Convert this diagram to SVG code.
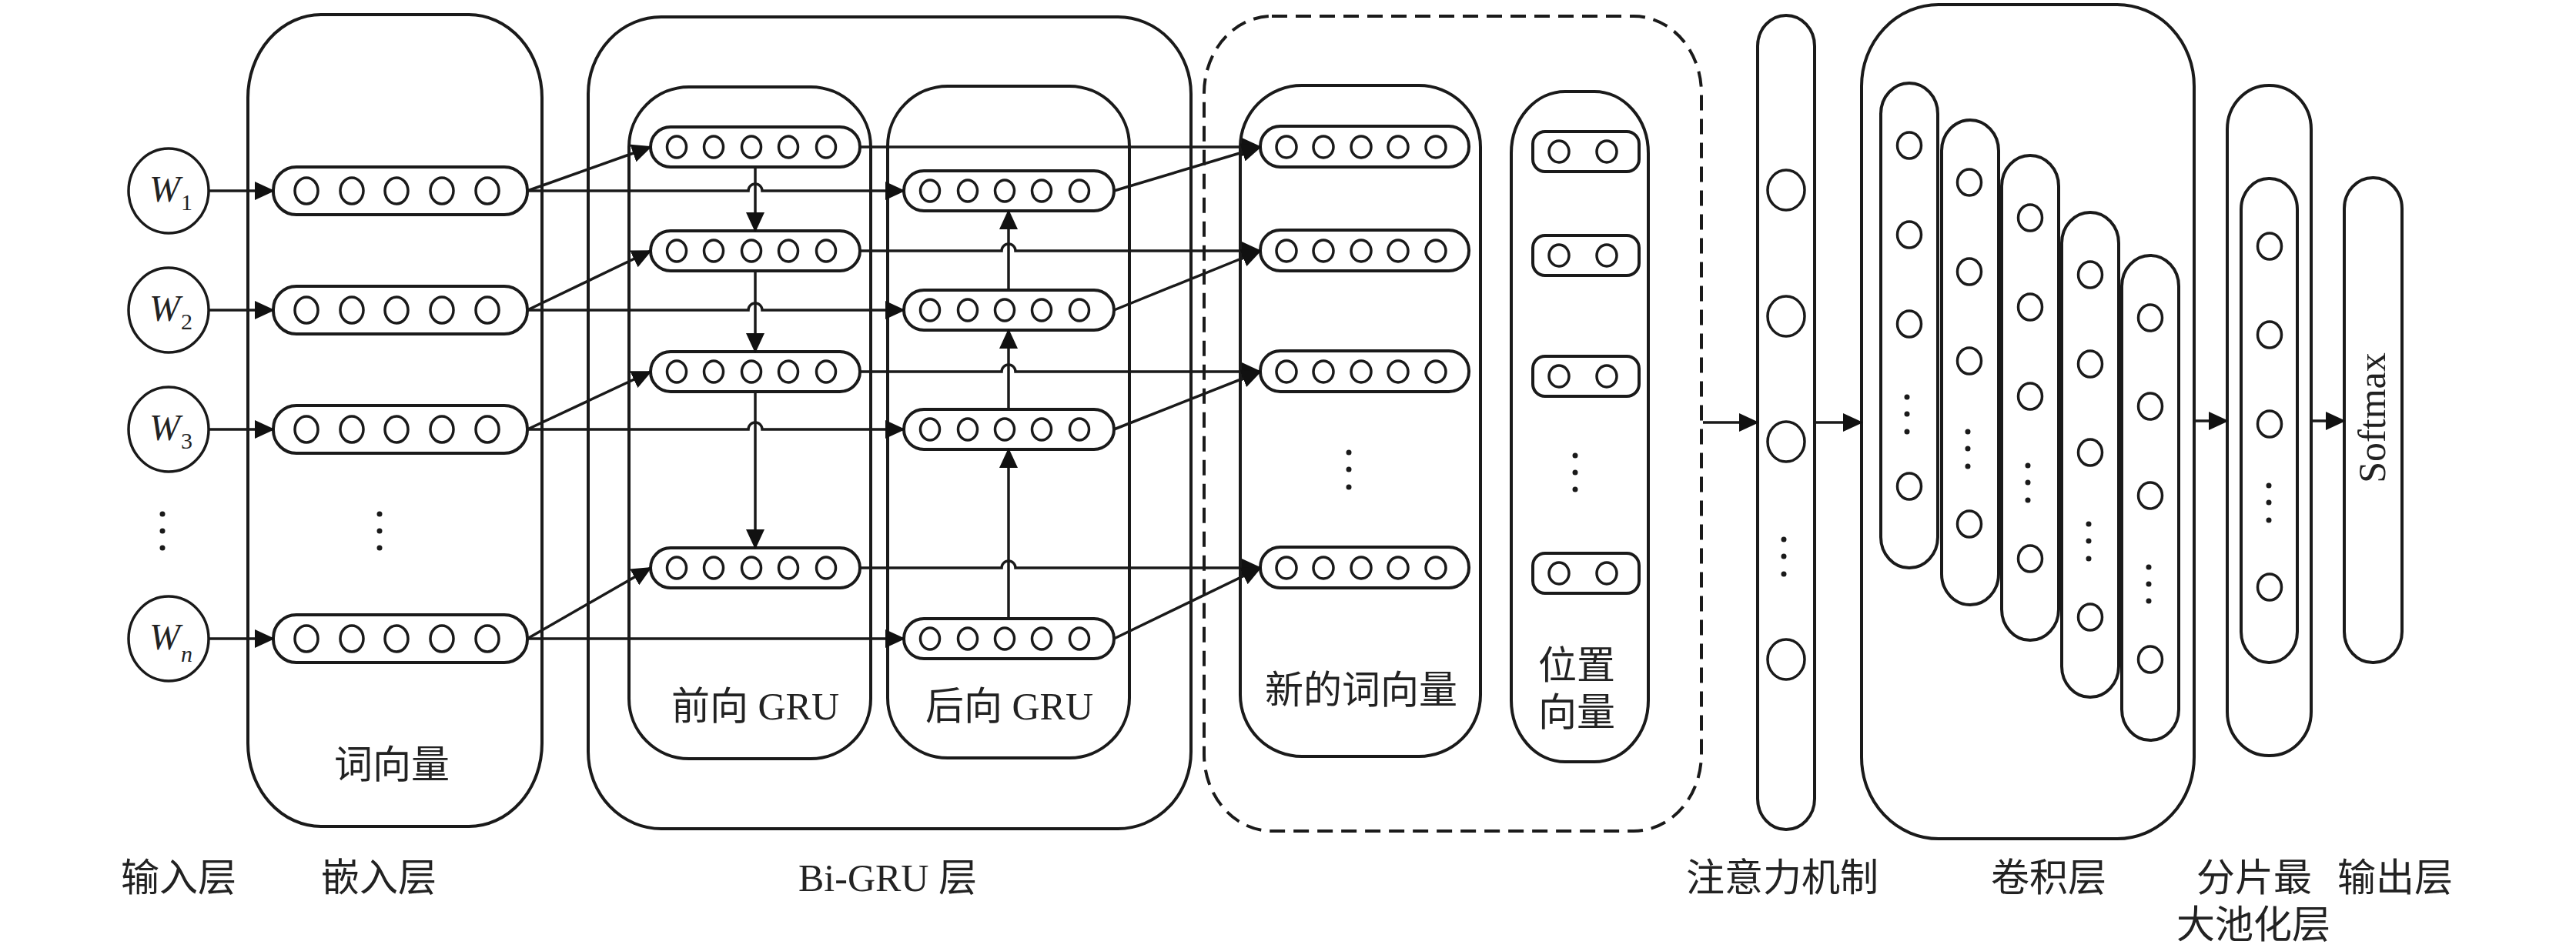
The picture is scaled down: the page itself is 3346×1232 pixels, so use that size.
<svg xmlns="http://www.w3.org/2000/svg" width="3346" height="1232" viewBox="0 0 3346 1232">
<style>
.box{fill:none;stroke:#1a1a1a;stroke-width:4}
.dash{fill:none;stroke:#1a1a1a;stroke-width:4;stroke-dasharray:20 11}
.pill{fill:#fff;stroke:#1a1a1a;stroke-width:4}
.c{fill:#fff;stroke:#1a1a1a;stroke-width:3.5}
.dot{fill:#1a1a1a}
.ln{fill:none;stroke:#1a1a1a;stroke-width:3.5;marker-end:url(#ah)}
.cn{font-family:"Liberation Serif","Noto Sans CJK SC",serif;font-size:50px;fill:#222;text-anchor:middle}
.wi{font-family:"Liberation Serif",serif;font-style:italic;font-size:48px;fill:#222}
.sub{font-family:"Liberation Serif",serif;font-size:30px;fill:#222}
</style>
<defs>
<marker id="ah" markerWidth="26" markerHeight="24" refX="24" refY="12" orient="auto" markerUnits="userSpaceOnUse"><path d="M0,0 L26,12 L0,24 z" fill="#111"/></marker>
<g id="c5e"><circle/></g>
</defs>
<rect width="3346" height="1232" fill="#fff"/>

<!-- Input layer -->
<g id="input">
<ellipse class="c" cx="219" cy="248" rx="52" ry="55"/>
<text class="wi" x="194" y="262">W</text><text class="sub" x="235" y="273">1</text>
<ellipse class="c" cx="219" cy="403" rx="52" ry="55"/>
<text class="wi" x="194" y="417">W</text><text class="sub" x="235" y="428">2</text>
<ellipse class="c" cx="219" cy="558" rx="52" ry="55"/>
<text class="wi" x="194" y="572">W</text><text class="sub" x="235" y="583">3</text>
<ellipse class="c" cx="219" cy="830" rx="52" ry="55"/>
<text class="wi" x="194" y="844">W</text><text class="sub" x="235" y="860" font-style="italic">n</text>
<circle class="dot" cx="211" cy="668" r="3.5"/><circle class="dot" cx="211" cy="690" r="3.5"/><circle class="dot" cx="211" cy="712" r="3.5"/>
</g>

<!-- Embedding layer -->
<g id="embedding">
<rect class="box" x="322" y="19" width="382" height="1055" rx="95" ry="108"/>
<g>
<rect class="pill" x="355" y="217" width="330" height="62" rx="30"/>
<ellipse class="c" cx="398" cy="248" rx="15" ry="17"/><ellipse class="c" cx="457" cy="248" rx="15" ry="17"/><ellipse class="c" cx="515" cy="248" rx="15" ry="17"/><ellipse class="c" cx="574" cy="248" rx="15" ry="17"/><ellipse class="c" cx="633" cy="248" rx="15" ry="17"/>
</g>
<g>
<rect class="pill" x="355" y="372" width="330" height="62" rx="30"/>
<ellipse class="c" cx="398" cy="403" rx="15" ry="17"/><ellipse class="c" cx="457" cy="403" rx="15" ry="17"/><ellipse class="c" cx="515" cy="403" rx="15" ry="17"/><ellipse class="c" cx="574" cy="403" rx="15" ry="17"/><ellipse class="c" cx="633" cy="403" rx="15" ry="17"/>
</g>
<g>
<rect class="pill" x="355" y="527" width="330" height="62" rx="30"/>
<ellipse class="c" cx="398" cy="558" rx="15" ry="17"/><ellipse class="c" cx="457" cy="558" rx="15" ry="17"/><ellipse class="c" cx="515" cy="558" rx="15" ry="17"/><ellipse class="c" cx="574" cy="558" rx="15" ry="17"/><ellipse class="c" cx="633" cy="558" rx="15" ry="17"/>
</g>
<g>
<rect class="pill" x="355" y="799" width="330" height="62" rx="30"/>
<ellipse class="c" cx="398" cy="830" rx="15" ry="17"/><ellipse class="c" cx="457" cy="830" rx="15" ry="17"/><ellipse class="c" cx="515" cy="830" rx="15" ry="17"/><ellipse class="c" cx="574" cy="830" rx="15" ry="17"/><ellipse class="c" cx="633" cy="830" rx="15" ry="17"/>
</g>
<circle class="dot" cx="493" cy="668" r="3.5"/><circle class="dot" cx="493" cy="690" r="3.5"/><circle class="dot" cx="493" cy="712" r="3.5"/>
<text class="cn" x="509" y="1011">词向量</text>
</g>

<!-- Bi-GRU layer -->
<g id="bigru">
<rect class="box" x="764" y="22" width="783" height="1055" rx="95" ry="100"/>
<g id="forward">
<rect class="box" x="817" y="113" width="314" height="873" rx="78" ry="78"/>
<g><rect class="pill" x="845" y="165" width="272" height="52" rx="26"/>
<ellipse class="c" cx="879" cy="191" rx="12.5" ry="14"/><ellipse class="c" cx="927" cy="191" rx="12.5" ry="14"/><ellipse class="c" cx="976" cy="191" rx="12.5" ry="14"/><ellipse class="c" cx="1024" cy="191" rx="12.5" ry="14"/><ellipse class="c" cx="1073" cy="191" rx="12.5" ry="14"/></g>
<g><rect class="pill" x="845" y="300" width="272" height="52" rx="26"/>
<ellipse class="c" cx="879" cy="326" rx="12.5" ry="14"/><ellipse class="c" cx="927" cy="326" rx="12.5" ry="14"/><ellipse class="c" cx="976" cy="326" rx="12.5" ry="14"/><ellipse class="c" cx="1024" cy="326" rx="12.5" ry="14"/><ellipse class="c" cx="1073" cy="326" rx="12.5" ry="14"/></g>
<g><rect class="pill" x="845" y="457" width="272" height="52" rx="26"/>
<ellipse class="c" cx="879" cy="483" rx="12.5" ry="14"/><ellipse class="c" cx="927" cy="483" rx="12.5" ry="14"/><ellipse class="c" cx="976" cy="483" rx="12.5" ry="14"/><ellipse class="c" cx="1024" cy="483" rx="12.5" ry="14"/><ellipse class="c" cx="1073" cy="483" rx="12.5" ry="14"/></g>
<g><rect class="pill" x="845" y="712" width="272" height="52" rx="26"/>
<ellipse class="c" cx="879" cy="738" rx="12.5" ry="14"/><ellipse class="c" cx="927" cy="738" rx="12.5" ry="14"/><ellipse class="c" cx="976" cy="738" rx="12.5" ry="14"/><ellipse class="c" cx="1024" cy="738" rx="12.5" ry="14"/><ellipse class="c" cx="1073" cy="738" rx="12.5" ry="14"/></g>
<text class="cn" x="981" y="935">前向 GRU</text>
</g>
<g id="backward">
<rect class="box" x="1153" y="112" width="314" height="873" rx="78" ry="78"/>
<g><rect class="pill" x="1174" y="222" width="273" height="52" rx="26"/>
<ellipse class="c" cx="1208" cy="248" rx="12.5" ry="14"/><ellipse class="c" cx="1257" cy="248" rx="12.5" ry="14"/><ellipse class="c" cx="1305" cy="248" rx="12.5" ry="14"/><ellipse class="c" cx="1353" cy="248" rx="12.5" ry="14"/><ellipse class="c" cx="1402" cy="248" rx="12.5" ry="14"/></g>
<g><rect class="pill" x="1174" y="377" width="273" height="52" rx="26"/>
<ellipse class="c" cx="1208" cy="403" rx="12.5" ry="14"/><ellipse class="c" cx="1257" cy="403" rx="12.5" ry="14"/><ellipse class="c" cx="1305" cy="403" rx="12.5" ry="14"/><ellipse class="c" cx="1353" cy="403" rx="12.5" ry="14"/><ellipse class="c" cx="1402" cy="403" rx="12.5" ry="14"/></g>
<g><rect class="pill" x="1174" y="532" width="273" height="52" rx="26"/>
<ellipse class="c" cx="1208" cy="558" rx="12.5" ry="14"/><ellipse class="c" cx="1257" cy="558" rx="12.5" ry="14"/><ellipse class="c" cx="1305" cy="558" rx="12.5" ry="14"/><ellipse class="c" cx="1353" cy="558" rx="12.5" ry="14"/><ellipse class="c" cx="1402" cy="558" rx="12.5" ry="14"/></g>
<g><rect class="pill" x="1174" y="804" width="273" height="52" rx="26"/>
<ellipse class="c" cx="1208" cy="830" rx="12.5" ry="14"/><ellipse class="c" cx="1257" cy="830" rx="12.5" ry="14"/><ellipse class="c" cx="1305" cy="830" rx="12.5" ry="14"/><ellipse class="c" cx="1353" cy="830" rx="12.5" ry="14"/><ellipse class="c" cx="1402" cy="830" rx="12.5" ry="14"/></g>
<text class="cn" x="1311" y="935">后向 GRU</text>
</g>
</g>

<!-- Concatenation (dashed) -->
<g id="concat">
<rect class="dash" x="1564" y="21" width="646" height="1059" rx="88" ry="100"/>
<g id="newvec">
<rect class="box" x="1611" y="111" width="312" height="872" rx="80" ry="80"/>
<g><rect class="pill" x="1637" y="164" width="271" height="53" rx="26"/>
<ellipse class="c" cx="1671" cy="191" rx="13" ry="14"/><ellipse class="c" cx="1719" cy="191" rx="13" ry="14"/><ellipse class="c" cx="1768" cy="191" rx="13" ry="14"/><ellipse class="c" cx="1816" cy="191" rx="13" ry="14"/><ellipse class="c" cx="1865" cy="191" rx="13" ry="14"/></g>
<g><rect class="pill" x="1637" y="299" width="271" height="53" rx="26"/>
<ellipse class="c" cx="1671" cy="326" rx="13" ry="14"/><ellipse class="c" cx="1719" cy="326" rx="13" ry="14"/><ellipse class="c" cx="1768" cy="326" rx="13" ry="14"/><ellipse class="c" cx="1816" cy="326" rx="13" ry="14"/><ellipse class="c" cx="1865" cy="326" rx="13" ry="14"/></g>
<g><rect class="pill" x="1637" y="456" width="271" height="53" rx="26"/>
<ellipse class="c" cx="1671" cy="483" rx="13" ry="14"/><ellipse class="c" cx="1719" cy="483" rx="13" ry="14"/><ellipse class="c" cx="1768" cy="483" rx="13" ry="14"/><ellipse class="c" cx="1816" cy="483" rx="13" ry="14"/><ellipse class="c" cx="1865" cy="483" rx="13" ry="14"/></g>
<g><rect class="pill" x="1637" y="711" width="271" height="53" rx="26"/>
<ellipse class="c" cx="1671" cy="738" rx="13" ry="14"/><ellipse class="c" cx="1719" cy="738" rx="13" ry="14"/><ellipse class="c" cx="1768" cy="738" rx="13" ry="14"/><ellipse class="c" cx="1816" cy="738" rx="13" ry="14"/><ellipse class="c" cx="1865" cy="738" rx="13" ry="14"/></g>
<circle class="dot" cx="1752" cy="588" r="3.5"/><circle class="dot" cx="1752" cy="610" r="3.5"/><circle class="dot" cx="1752" cy="633" r="3.5"/>
<text class="cn" x="1768" y="914">新的词向量</text>
</g>
<g id="position">
<rect class="box" x="1963" y="119" width="178" height="871" rx="70" ry="80"/>
<g><rect class="pill" x="1991" y="171" width="138" height="52" rx="16"/><ellipse class="c" cx="2025" cy="197" rx="13" ry="14"/><ellipse class="c" cx="2087" cy="197" rx="13" ry="14"/></g>
<g><rect class="pill" x="1991" y="306" width="138" height="52" rx="16"/><ellipse class="c" cx="2025" cy="332" rx="13" ry="14"/><ellipse class="c" cx="2087" cy="332" rx="13" ry="14"/></g>
<g><rect class="pill" x="1991" y="463" width="138" height="52" rx="16"/><ellipse class="c" cx="2025" cy="489" rx="13" ry="14"/><ellipse class="c" cx="2087" cy="489" rx="13" ry="14"/></g>
<g><rect class="pill" x="1991" y="719" width="138" height="52" rx="16"/><ellipse class="c" cx="2025" cy="745" rx="13" ry="14"/><ellipse class="c" cx="2087" cy="745" rx="13" ry="14"/></g>
<circle class="dot" cx="2046" cy="592" r="3.5"/><circle class="dot" cx="2046" cy="614" r="3.5"/><circle class="dot" cx="2046" cy="636" r="3.5"/>
<text class="cn" x="2048" y="882">位置</text>
<text class="cn" x="2048" y="943">向量</text>
</g>
</g>

<!-- Attention -->
<g id="attention">
<rect class="box" x="2283" y="20" width="74" height="1058" rx="37" ry="40"/>
<ellipse class="c" cx="2320" cy="247" rx="24" ry="26"/>
<ellipse class="c" cx="2320" cy="411" rx="24" ry="26"/>
<ellipse class="c" cx="2320" cy="574" rx="24" ry="26"/>
<ellipse class="c" cx="2320" cy="857" rx="24" ry="26"/>
<circle class="dot" cx="2317" cy="701" r="3.5"/><circle class="dot" cx="2317" cy="723" r="3.5"/><circle class="dot" cx="2317" cy="746" r="3.5"/>
</g>

<!-- Convolution -->
<g id="conv">
<rect class="box" x="2418" y="6" width="432" height="1084" rx="100" ry="106"/>
<g>
<rect class="box" x="2443" y="108" width="74" height="630" rx="37" ry="40"/>
<ellipse class="c" cx="2480" cy="189" rx="15.5" ry="17"/><ellipse class="c" cx="2480" cy="305" rx="15.5" ry="17"/><ellipse class="c" cx="2480" cy="421" rx="15.5" ry="17"/><ellipse class="c" cx="2480" cy="632" rx="15.5" ry="17"/>
<circle class="dot" cx="2477" cy="516" r="3.5"/><circle class="dot" cx="2477" cy="538" r="3.5"/><circle class="dot" cx="2477" cy="561" r="3.5"/>
</g>
<g>
<rect class="box" x="2522" y="156" width="74" height="630" rx="37" ry="40"/>
<ellipse class="c" cx="2558" cy="237" rx="15.5" ry="17"/><ellipse class="c" cx="2558" cy="353" rx="15.5" ry="17"/><ellipse class="c" cx="2558" cy="469" rx="15.5" ry="17"/><ellipse class="c" cx="2558" cy="681" rx="15.5" ry="17"/>
<circle class="dot" cx="2556" cy="561" r="3.5"/><circle class="dot" cx="2556" cy="583" r="3.5"/><circle class="dot" cx="2556" cy="606" r="3.5"/>
</g>
<g>
<rect class="box" x="2600" y="202" width="74" height="630" rx="37" ry="40"/>
<ellipse class="c" cx="2637" cy="283" rx="15.5" ry="17"/><ellipse class="c" cx="2637" cy="399" rx="15.5" ry="17"/><ellipse class="c" cx="2637" cy="515" rx="15.5" ry="17"/><ellipse class="c" cx="2637" cy="726" rx="15.5" ry="17"/>
<circle class="dot" cx="2634" cy="605" r="3.5"/><circle class="dot" cx="2634" cy="627" r="3.5"/><circle class="dot" cx="2634" cy="650" r="3.5"/>
</g>
<g>
<rect class="box" x="2678" y="276" width="74" height="630" rx="37" ry="40"/>
<ellipse class="c" cx="2715" cy="357" rx="15.5" ry="17"/><ellipse class="c" cx="2715" cy="473" rx="15.5" ry="17"/><ellipse class="c" cx="2715" cy="588" rx="15.5" ry="17"/><ellipse class="c" cx="2715" cy="802" rx="15.5" ry="17"/>
<circle class="dot" cx="2713" cy="681" r="3.5"/><circle class="dot" cx="2713" cy="703" r="3.5"/><circle class="dot" cx="2713" cy="726" r="3.5"/>
</g>
<g>
<rect class="box" x="2756" y="332" width="74" height="630" rx="37" ry="40"/>
<ellipse class="c" cx="2793" cy="413" rx="15.5" ry="17"/><ellipse class="c" cx="2793" cy="528" rx="15.5" ry="17"/><ellipse class="c" cx="2793" cy="644" rx="15.5" ry="17"/><ellipse class="c" cx="2793" cy="857" rx="15.5" ry="17"/>
<circle class="dot" cx="2791" cy="737" r="3.5"/><circle class="dot" cx="2791" cy="759" r="3.5"/><circle class="dot" cx="2791" cy="781" r="3.5"/>
</g>
</g>

<!-- Pooling -->
<g id="pooling">
<rect class="box" x="2893" y="111" width="109" height="871" rx="54" ry="57"/>
<rect class="box" x="2911" y="232" width="73" height="629" rx="36" ry="40"/>
<ellipse class="c" cx="2948" cy="320" rx="15.5" ry="17"/><ellipse class="c" cx="2948" cy="435" rx="15.5" ry="17"/><ellipse class="c" cx="2948" cy="551" rx="15.5" ry="17"/><ellipse class="c" cx="2948" cy="763" rx="15.5" ry="17"/>
<circle class="dot" cx="2947" cy="631" r="3.5"/><circle class="dot" cx="2947" cy="653" r="3.5"/><circle class="dot" cx="2947" cy="676" r="3.5"/>
</g>

<!-- Output -->
<g id="softmax">
<rect class="box" x="3045" y="231" width="75" height="630" rx="37" ry="40"/>
<text font-family="Liberation Serif, serif" font-size="50" fill="#222" text-anchor="middle" transform="translate(3098,543) rotate(-90)">Softmax</text>
</g>

<!-- Connectors -->
<g id="connectors">
<path class="ln" d="M271,248 L355,248"/>
<path class="ln" d="M271,403 L355,403"/>
<path class="ln" d="M271,558 L355,558"/>
<path class="ln" d="M271,830 L355,830"/>

<path class="ln" d="M685,248 L845,191"/>
<path class="ln" d="M685,403 L845,326"/>
<path class="ln" d="M685,558 L845,483"/>
<path class="ln" d="M685,830 L845,738"/>

<path class="ln" d="M685,248 L972,248 A9,9 0 0 1 990,248 L1174,248"/>
<path class="ln" d="M685,403 L972,403 A9,9 0 0 1 990,403 L1174,403"/>
<path class="ln" d="M685,558 L972,558 A9,9 0 0 1 990,558 L1174,558"/>
<path class="ln" d="M685,830 L1174,830"/>

<path class="ln" d="M981,217 L981,300"/>
<path class="ln" d="M981,352 L981,457"/>
<path class="ln" d="M981,509 L981,712"/>

<path class="ln" d="M1310,377 L1310,274"/>
<path class="ln" d="M1310,532 L1310,429"/>
<path class="ln" d="M1310,804 L1310,584"/>

<path class="ln" d="M1117,191 L1637,191"/>
<path class="ln" d="M1117,326 L1301,326 A9,9 0 0 1 1319,326 L1637,326"/>
<path class="ln" d="M1117,483 L1301,483 A9,9 0 0 1 1319,483 L1637,483"/>
<path class="ln" d="M1117,738 L1301,738 A9,9 0 0 1 1319,738 L1637,738"/>

<path class="ln" d="M1447,248 L1637,191"/>
<path class="ln" d="M1447,403 L1637,326"/>
<path class="ln" d="M1447,558 L1637,483"/>
<path class="ln" d="M1447,830 L1637,738"/>

<path class="ln" d="M2212,549 L2283,549"/>
<path class="ln" d="M2357,549 L2418,549"/>
<path class="ln" d="M2850,547 L2893,547"/>
<path class="ln" d="M3002,547 L3045,547"/>
</g>

<!-- Layer labels -->
<g id="labels">
<text class="cn" x="232" y="1158">输入层</text>
<text class="cn" x="492" y="1158">嵌入层</text>
<text class="cn" x="1153" y="1158">Bi-GRU 层</text>
<text class="cn" x="2315" y="1158">注意力机制</text>
<text class="cn" x="2661" y="1158">卷积层</text>
<text class="cn" x="2928" y="1158">分片最</text>
<text class="cn" x="2927" y="1219">大池化层</text>
<text class="cn" x="3111" y="1158">输出层</text>
</g>
</svg>
